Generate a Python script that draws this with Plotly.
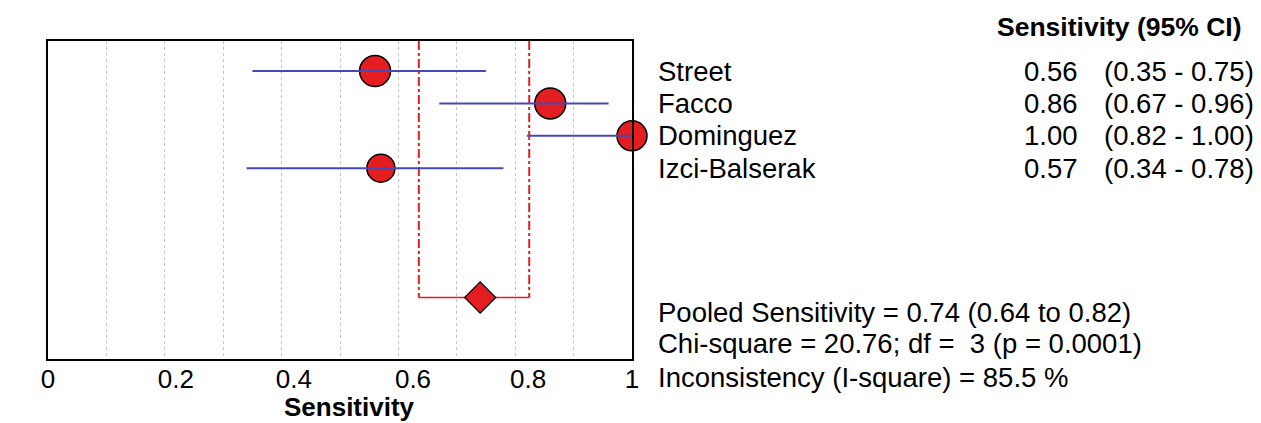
import plotly.graph_objects as go

studies = ["Street", "Facco", "Dominguez", "Izci-Balserak"]
sens = [0.56, 0.86, 1.00, 0.57]
ci_lo = [0.35, 0.67, 0.82, 0.34]
ci_hi = [0.75, 0.96, 1.00, 0.78]
marker_sizes = [31, 31, 30, 28]
pooled = 0.74
pooled_lo = 0.635
pooled_hi = 0.824
tick_labels = ["0", "0.2", "0.4", "0.6", "0.8", "1"]
stats_lines = [
    "Pooled Sensitivity = 0.74 (0.64 to 0.82)",
    "Chi-square = 20.76; df =  3 (p = 0.0001)",
    "Inconsistency (I-square) = 85.5 %",
]

rows = list(range(1, len(studies) + 1))
pooled_row = 8
y_top, y_bot = 0.07, 9.9

FONT = "Arial, 'Liberation Sans', sans-serif"
RED = "#e41e20"
BLUE = "#4848b4"
TXT = 27.5

fig = go.Figure()

# pooled CI vertical dash-dot lines
for v in (pooled_lo, pooled_hi):
    fig.add_trace(go.Scatter(x=[v, v], y=[y_top, pooled_row], mode="lines",
                             line=dict(color=RED, width=2, dash="dashdot"),
                             showlegend=False, hoverinfo="skip"))
# horizontal connector
fig.add_trace(go.Scatter(x=[pooled_lo, pooled_hi], y=[pooled_row, pooled_row], mode="lines",
                         line=dict(color=RED, width=1.5), showlegend=False, hoverinfo="skip"))

# study points
fig.add_trace(go.Scatter(x=sens, y=rows, mode="markers",
                         marker=dict(symbol="circle", size=marker_sizes, color=RED, opacity=1,
                                     line=dict(color="black", width=1.5)),
                         showlegend=False, cliponaxis=False))

# CI lines (drawn over the markers)
for r, lo, hi in zip(rows, ci_lo, ci_hi):
    fig.add_trace(go.Scatter(x=[lo, hi], y=[r, r], mode="lines",
                             line=dict(color=BLUE, width=2), hoverinfo="skip",
                             showlegend=False, cliponaxis=False))

# pooled diamond
fig.add_trace(go.Scatter(x=[pooled], y=[pooled_row], mode="markers",
                         marker=dict(symbol="diamond", size=24, color=RED, opacity=1,
                                     line=dict(color="black", width=1.2)),
                         showlegend=False, cliponaxis=False))

ann = []
ann.append(dict(text="<b>Sensitivity (95% CI)</b>", x=2.046, y=1.044, xref="paper", yref="paper",
                xanchor="right", yanchor="middle", showarrow=False,
                font=dict(size=26.5, family=FONT, color="black")))
for r, name, s, lo, hi in zip(rows, studies, sens, ci_lo, ci_hi):
    ann.append(dict(text=name, x=1.041, y=r, xref="paper", yref="y", xanchor="left",
                    yanchor="middle", showarrow=False, font=dict(size=TXT, family=FONT, color="black")))
    ann.append(dict(text=f"{s:.2f}", x=1.767, y=r, xref="paper", yref="y", xanchor="right",
                    yanchor="middle", showarrow=False, font=dict(size=TXT, family=FONT, color="black")))
    ann.append(dict(text=f"({lo:.2f} - {hi:.2f})", x=1.805, y=r, xref="paper", yref="y",
                    xanchor="left", yanchor="middle", showarrow=False,
                    font=dict(size=TXT, family=FONT, color="black")))
for txt, yp in zip(stats_lines, [0.1447, 0.0503, -0.0597]):
    ann.append(dict(text=txt, x=1.041, y=yp, xref="paper", yref="paper", xanchor="left",
                    yanchor="middle", showarrow=False, font=dict(size=TXT, family=FONT, color="black")))
ann.append(dict(text="<b>Sensitivity</b>", x=0.516, y=-0.152, xref="paper", yref="paper",
                xanchor="center", yanchor="middle", showarrow=False,
                font=dict(size=26, family=FONT, color="black")))

fig.update_layout(
    width=1261, height=423,
    margin=dict(l=48, r=629, t=41, b=64, pad=0),
    paper_bgcolor="white", plot_bgcolor="white",
    annotations=ann,
    xaxis=dict(range=[0, 1], showgrid=False, zeroline=False,
               showline=True, linecolor="black", linewidth=2, mirror=True,
               tickmode="array", tickvals=[0, 0.219, 0.421, 0.625, 0.822, 1.0],
               ticktext=tick_labels, ticks="", ticklabelstandoff=-4,
               tickfont=dict(size=26, family=FONT, color="black"),
               minor=dict(tickmode="array", tickvals=[i / 10 for i in range(1, 10)],
                          showgrid=True, gridcolor="#c4c4c4", griddash="dot", gridwidth=1.2,
                          ticks="")),
    yaxis=dict(range=[y_bot, y_top], showgrid=False, zeroline=False, showticklabels=False,
               showline=True, linecolor="black", linewidth=2, mirror=True, ticks=""),
)

fig.write_html("out.html")
